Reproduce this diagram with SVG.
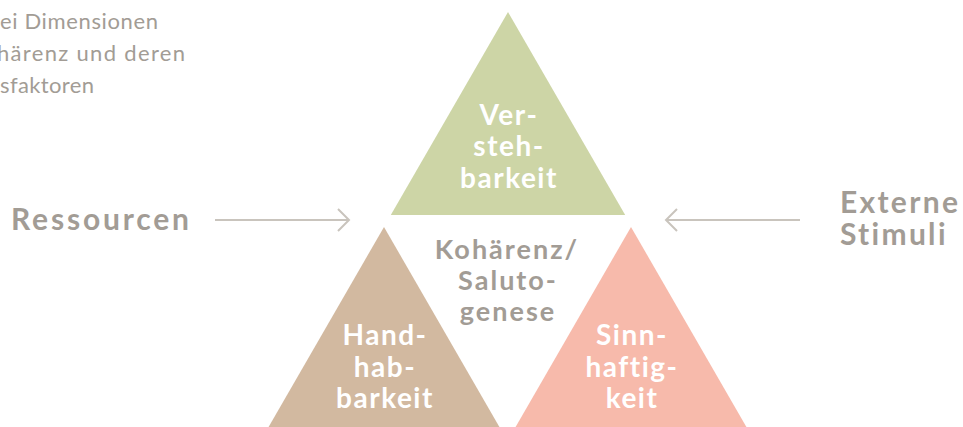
<svg xmlns="http://www.w3.org/2000/svg" width="963" height="427" viewBox="0 0 963 427">
  <style>
    .cap { font-family: Lato, "Noto Sans", sans-serif; font-size: 22px; fill: #a29c95; }
    .lbl { font-family: Lato, "Noto Sans", sans-serif; font-weight: 700; font-size: 30px; fill: #a29c95; letter-spacing: 2.3px; }
    .ctr { font-family: Lato, "Noto Sans", sans-serif; font-weight: 700; font-size: 27px; fill: #a29c95; letter-spacing: 2px; text-anchor: middle; }
    .node { font-family: Lato, "Noto Sans", sans-serif; font-weight: 700; font-size: 28px; fill: #ffffff; letter-spacing: 1.5px; text-anchor: middle; }
    .arrow { fill: none; stroke: #c9c4bd; stroke-width: 2; }
  </style>
  <rect width="963" height="427" fill="#ffffff"/>

  <g id="caption">
    <text class="cap" x="0" y="29" textLength="158" lengthAdjust="spacing">ei Dimensionen</text>
    <text class="cap" x="-3" y="61" textLength="188" lengthAdjust="spacing">härenz und deren</text>
    <text class="cap" x="0" y="93" textLength="94" lengthAdjust="spacing">sfaktoren</text>
  </g>

  <g id="node-verstehbarkeit">
    <polygon points="508,12 390.8,215 625.2,215" fill="#cdd5a6"/>
    <text class="node" x="509" y="125">Ver-</text>
    <text class="node" x="509" y="156">steh-</text>
    <text class="node" x="509" y="188">barkeit</text>
  </g>

  <g id="node-handhabbarkeit">
    <polygon points="384,227 268,428 500,428" fill="#d2b9a0"/>
    <text class="node" x="385" y="345">Hand-</text>
    <text class="node" x="385" y="377">hab-</text>
    <text class="node" x="385" y="408">barkeit</text>
  </g>

  <g id="node-sinnhaftigkeit">
    <polygon points="631,227 515,428 747,428" fill="#f7baab"/>
    <text class="node" x="632" y="345">Sinn-</text>
    <text class="node" x="632" y="377">haftig-</text>
    <text class="node" x="632" y="408">keit</text>
  </g>

  <g id="node-kohaerenz">
    <text class="ctr" x="507" y="259">Kohärenz/</text>
    <text class="ctr" x="508" y="290">Saluto-</text>
    <text class="ctr" x="508" y="321">genese</text>
  </g>

  <g id="node-ressourcen">
    <text class="lbl" x="11" y="230" style="letter-spacing:2.8px">Ressourcen</text>
  </g>

  <g id="node-externe-stimuli">
    <text class="lbl" x="840" y="213">Externe</text>
    <text class="lbl" x="840" y="245">Stimuli</text>
  </g>

  <g id="connectors">
    <path class="arrow" d="M215,220 H349 M338,209 L349,220 L338,231"/>
    <path class="arrow" d="M800,220 H666 M677,209 L666,220 L677,231"/>
  </g>
</svg>
